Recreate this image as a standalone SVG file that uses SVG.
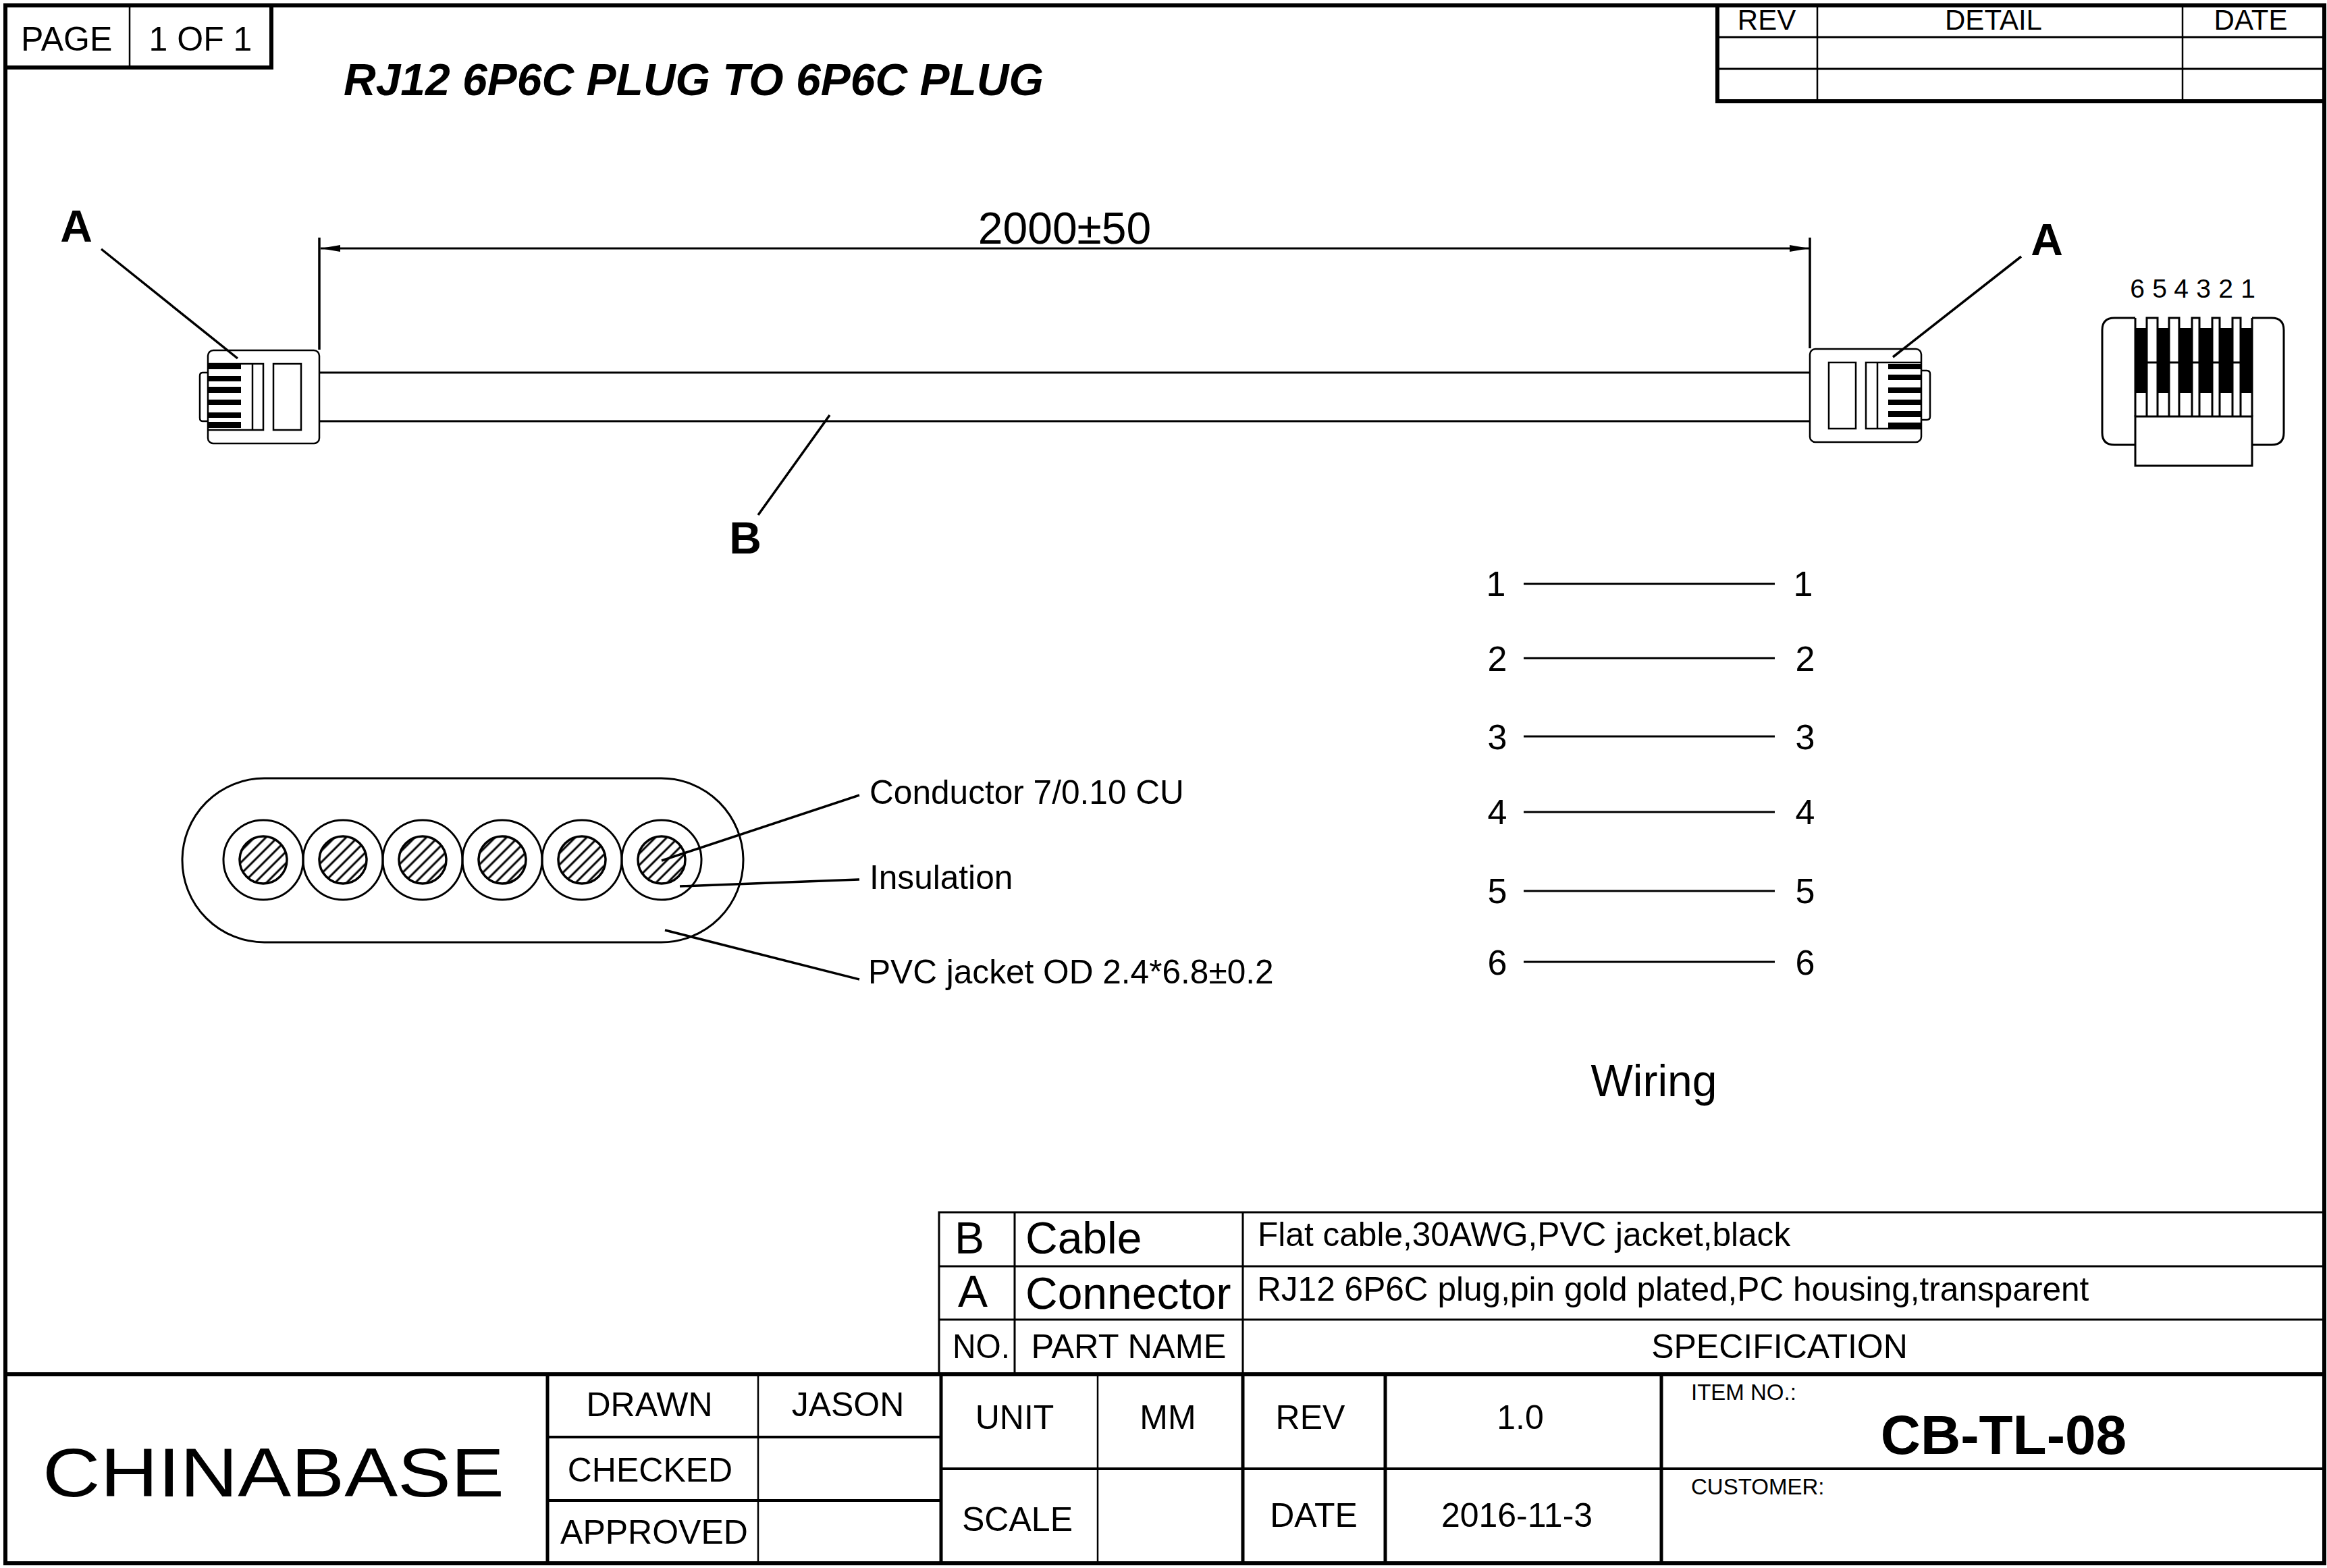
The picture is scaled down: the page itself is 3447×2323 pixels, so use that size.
<svg xmlns="http://www.w3.org/2000/svg" width="3447" height="2323" viewBox="0 0 3447 2323">
<style>
text{font-family:"Liberation Sans",Arial,sans-serif;fill:#000}
.m{text-anchor:middle}
.s33{font-size:33px}.s39{font-size:39px}.s42{font-size:42px}.s49{font-size:50px}.s495{font-size:49.6px}.s52{font-size:52px}.s66{font-size:66px}
.b{font-weight:bold}
.l{fill:none;stroke:#000;stroke-width:3}
.n{fill:none;stroke:#000;stroke-width:2.5}
.t{fill:none;stroke:#000;stroke-width:2.5}
.f{fill:none;stroke:#000;stroke-width:6;stroke-linecap:square}
.c{fill:none;stroke:#000;stroke-width:3.5}
.p{fill:#000}
.w{fill:#fff;stroke:#000;stroke-width:3}
</style>
<defs>
<marker id="arr" markerUnits="userSpaceOnUse" markerWidth="30" markerHeight="12" refX="29" refY="6" orient="auto-start-reverse"><path d="M0 1L29 6L0 11Z" fill="#000"/></marker>
<pattern id="hatch" width="12" height="12" patternUnits="userSpaceOnUse" patternTransform="translate(980 1274) rotate(-45)"><rect width="12" height="12" fill="#fff"/><line x1="0" y1="6" x2="12" y2="6" stroke="#000" stroke-width="3"/></pattern>
<g id="core"><circle r="59" class="l"/></g>
</defs>
<rect width="3447" height="2323" fill="#fff"/>

<g id="frame">
<rect x="8" y="8" width="3435" height="2308" class="f"/>
<path class="f" d="M8 2036H3443"/>
</g>
<g id="page-box">
<path class="f" d="M8 100H402V8"/>
<path class="t" d="M192 8V100"/>
<text x="31" y="75" class="s49">PAGE</text>
<text x="297" y="75" class="s49 m">1 OF 1</text>
</g>
<text id="title" x="509" y="141" class="s66 b" font-style="italic">RJ12 6P6C PLUG TO 6P6C PLUG</text>
<g id="rev-table">
<path class="f" d="M2544 8V150H3443"/>
<path class="l" d="M2544 55H3443M2544 102H3443"/>
<path class="t" d="M2692 8V150M3233 8V150"/>
<text x="2617" y="44" class="s42 m">REV</text>
<text x="2953" y="44" class="s42 m">DETAIL</text>
<text x="3334" y="44" class="s42 m">DATE</text>
</g>

<text id="dimension" x="1577" y="361" class="s66 m">2000±50</text>

<g id="label-a-left"><text x="113" y="358" class="s66 b m">A</text></g>
<g id="label-a-right"><text x="3032" y="378" class="s66 b m">A</text></g>
<g id="label-b"><text x="1104" y="820" class="s66 b m">B</text></g>

<g id="plug-left">
<path class="n" d="M308 552H300Q296 552 296 557V619Q296 624 300 624H308"/>
<rect x="308" y="519" width="165" height="138" rx="8" class="n"/>
<path class="n" d="M308 539H390V637H308M374 539V637"/>
<rect x="405" y="539" width="41" height="98" class="n"/>
<path class="p" d="M308 539h49v8h-49zM308 557h49v8h-49zM308 573h49v9h-49zM308 592h49v8h-49zM308 611h49v8h-49zM308 625h49v9h-49z"/>
</g>
<g id="plug-right">
<path class="n" d="M2846 549H2854Q2859 549 2859 554V617Q2859 622 2854 622H2846"/>
<rect x="2681" y="517" width="165" height="138" rx="8" class="n"/>
<path class="n" d="M2846 537H2764V635H2846M2781 537V635"/>
<rect x="2709" y="537" width="40" height="98" class="n"/>
<path class="p" d="M2797 539h49v8h-49zM2797 555h49v8h-49zM2797 574h49v8h-49zM2797 592h49v8h-49zM2797 609h49v9h-49zM2797 626h49v8h-49z"/>
</g>

<g id="plug-front">
<path class="l" d="M3163 471H3132Q3114 471 3114 489V641Q3114 659 3132 659H3163M3336 471H3365Q3383 471 3383 489V641Q3383 659 3365 659H3336"/>
<path class="l" d="M3163 471V617M3336 471V617"/>
<rect x="3163" y="486" width="173" height="96" class="p"/>
<path class="w" d="M3180 617V471H3196V617M3213 617V471H3228V617M3247 617V471H3258V617M3277 617V471H3288V617M3307 617V471H3319V617"/>
<path class="l" d="M3180 537H3196M3213 537H3228M3247 537H3258M3277 537H3288M3307 537H3319"/>
<rect x="3163" y="617" width="173" height="73" class="w"/>
<g class="s39">
<text x="3166" y="441" class="m">6</text><text x="3199" y="441" class="m">5</text><text x="3231" y="441" class="m">4</text><text x="3264" y="441" class="m">3</text><text x="3297" y="441" class="m">2</text><text x="3330" y="441" class="m">1</text>
</g>
</g>

<g id="cable-section">
<rect x="270" y="1153" width="831" height="243" rx="121.5" class="l"/>
<use href="#core" x="390" y="1274"/><use href="#core" x="508" y="1274"/><use href="#core" x="626" y="1274"/><use href="#core" x="744" y="1274"/><use href="#core" x="862" y="1274"/><use href="#core" x="980" y="1274"/>
<circle cx="390" cy="1274" r="35" fill="url(#hatch)" stroke="#000" stroke-width="3.5"/>
<circle cx="508" cy="1274" r="35" fill="url(#hatch)" stroke="#000" stroke-width="3.5"/>
<circle cx="626" cy="1274" r="35" fill="url(#hatch)" stroke="#000" stroke-width="3.5"/>
<circle cx="744" cy="1274" r="35" fill="url(#hatch)" stroke="#000" stroke-width="3.5"/>
<circle cx="862" cy="1274" r="35" fill="url(#hatch)" stroke="#000" stroke-width="3.5"/>
<circle cx="980" cy="1274" r="35" fill="url(#hatch)" stroke="#000" stroke-width="3.5"/>
</g>

<g id="connectors">
<path class="c" d="M473 352V518M2681 352V516"/>
<line x1="475" y1="368" x2="2680" y2="368" class="l" marker-start="url(#arr)" marker-end="url(#arr)"/>
<path class="l" d="M473 552H2681M473 624H2681"/>
<path class="c" d="M150 369L352 531M2994 380L2804 529M1123 763L1229 615"/>
<path class="c" d="M1273 1178L980 1275M1273 1303L1007 1313M1273 1451L985 1378"/>
<path class="l" d="M2257 865H2629M2257 975H2629M2257 1091H2629M2257 1203H2629M2257 1320H2629M2257 1425H2629"/>
</g>

<g id="callouts">
<text x="1288" y="1191" class="s495">Conductor 7/0.10 CU</text>
<text x="1288" y="1317" class="s495">Insulation</text>
<text x="1286" y="1457" class="s495">PVC jacket OD 2.4*6.8±0.2</text>
</g>

<g id="wiring">
<g class="s52">
<text x="2216" y="883" class="m">1</text><text x="2218" y="994" class="m">2</text><text x="2218" y="1110" class="m">3</text><text x="2218" y="1221" class="m">4</text><text x="2218" y="1338" class="m">5</text><text x="2218" y="1444" class="m">6</text>
<text x="2671" y="883" class="m">1</text><text x="2674" y="994" class="m">2</text><text x="2674" y="1110" class="m">3</text><text x="2674" y="1221" class="m">4</text><text x="2674" y="1338" class="m">5</text><text x="2674" y="1444" class="m">6</text>
</g>
<text x="2450" y="1624" class="s66 m">Wiring</text>
</g>

<g id="parts-table">
<path class="l" d="M1391 2036V1796H3443M1391 1876H3443M1391 1955H3443M1503 1796V2036M1841 1796V2036"/>
<text x="1436" y="1857" class="s66 m">B</text>
<text x="1519" y="1857" class="s66">Cable</text>
<text x="1863" y="1846" class="s495">Flat cable,30AWG,PVC jacket,black</text>
<text x="1441" y="1936" class="s66 m">A</text>
<text x="1519" y="1939" class="s66">Connector</text>
<text x="1862" y="1927" class="s495">RJ12 6P6C plug,pin gold plated,PC housing,transparent</text>
<text x="1411" y="2012" class="s49" textLength="85" lengthAdjust="spacingAndGlyphs">NO.</text>
<text x="1672" y="2012" font-size="50.5" class="m">PART NAME</text>
<text x="2636" y="2012" class="s49 m">SPECIFICATION</text>
</g>

<g id="title-block">
<path class="f" d="M811 2036V2316M1394 2036V2316M1841 2036V2316M2052 2036V2316M2461 2036V2316" style="stroke-width:5"/>
<path class="t" d="M1123 2036V2316M1626 2036V2316"/>
<path class="l" d="M811 2129H1394M811 2223H1394M1394 2176H3443" style="stroke-width:4"/>
<text x="405" y="2217" font-size="102" text-anchor="middle" textLength="684" lengthAdjust="spacingAndGlyphs">CHINABASE</text>
<text x="962" y="2098" class="s49 m">DRAWN</text>
<text x="1256" y="2098" class="s49 m">JASON</text>
<text x="963" y="2195" class="s49 m">CHECKED</text>
<text x="969" y="2287" class="s49 m">APPROVED</text>
<text x="1503" y="2117" class="s49 m">UNIT</text>
<text x="1730" y="2117" class="s49 m">MM</text>
<text x="1941" y="2117" class="s49 m">REV</text>
<text x="2252" y="2117" class="s49 m">1.0</text>
<text x="1507" y="2268" class="s49 m">SCALE</text>
<text x="1946" y="2262" class="s49 m">DATE</text>
<text x="2247" y="2262" class="s49 m">2016-11-3</text>
<text x="2505" y="2074" class="s33">ITEM NO.:</text>
<text x="2968" y="2154" class="b m" font-size="82">CB-TL-08</text>
<text x="2505" y="2214" class="s33">CUSTOMER:</text>
</g>
</svg>
